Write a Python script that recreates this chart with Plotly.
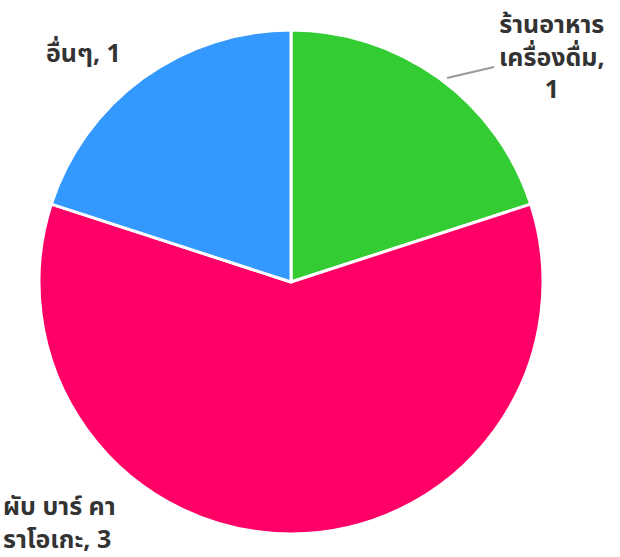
import plotly.graph_objects as go

labels = ["ร้านอาหาร เครื่องดื่ม", "ผับ บาร์ คาราโอเกะ", "อื่นๆ"]
values = [1, 3, 1]
colors = ["#33CC33", "#FF0066", "#3399FF"]

W, H = 620, 557
cx, cy, r = 291, 282, 252

fig = go.Figure(go.Pie(
    labels=labels, values=values, sort=False, direction="clockwise", rotation=0,
    marker=dict(colors=colors, line=dict(color="white", width=3)),
    textinfo="none", hoverinfo="label+value", showlegend=False,
    domain=dict(x=[(cx - r) / W, (cx + r) / W], y=[1 - (cy + r) / H, 1 - (cy - r) / H]),
))

font = dict(family="Noto Sans, Noto Sans Thai, sans-serif",
            size=25, color="#333333", weight="bold")
ann = [
    dict(x=552 / W, y=1 - 55 / H, text="ร้านอาหาร<br>เครื่องดื่ม,<br>%d" % values[0], align="center", xanchor="center"),
    dict(x=44 / W, y=1 - 52 / H, text="อื่นๆ, %d" % values[2], align="left", xanchor="left"),
    dict(x=1 / W, y=1 - 521 / H, text="ผับ บาร์ คา<br>ราโอเกะ, %d" % values[1], align="left", xanchor="left"),
]
fig.update_layout(
    width=W, height=H, margin=dict(l=0, r=0, t=0, b=0),
    paper_bgcolor="white", plot_bgcolor="white",
    annotations=[dict(a, xref="paper", yref="paper", showarrow=False,
                      yanchor="middle", font=font) for a in ann],
    shapes=[dict(type="line", xref="paper", yref="paper",
                 x0=447 / W, y0=1 - 78 / H, x1=494 / W, y1=1 - 67 / H,
                 line=dict(color="#999999", width=2))],
)
fig.write_html("out.html", config=dict(displayModeBar=False),
               post_script="document.body.style.margin='0';")
